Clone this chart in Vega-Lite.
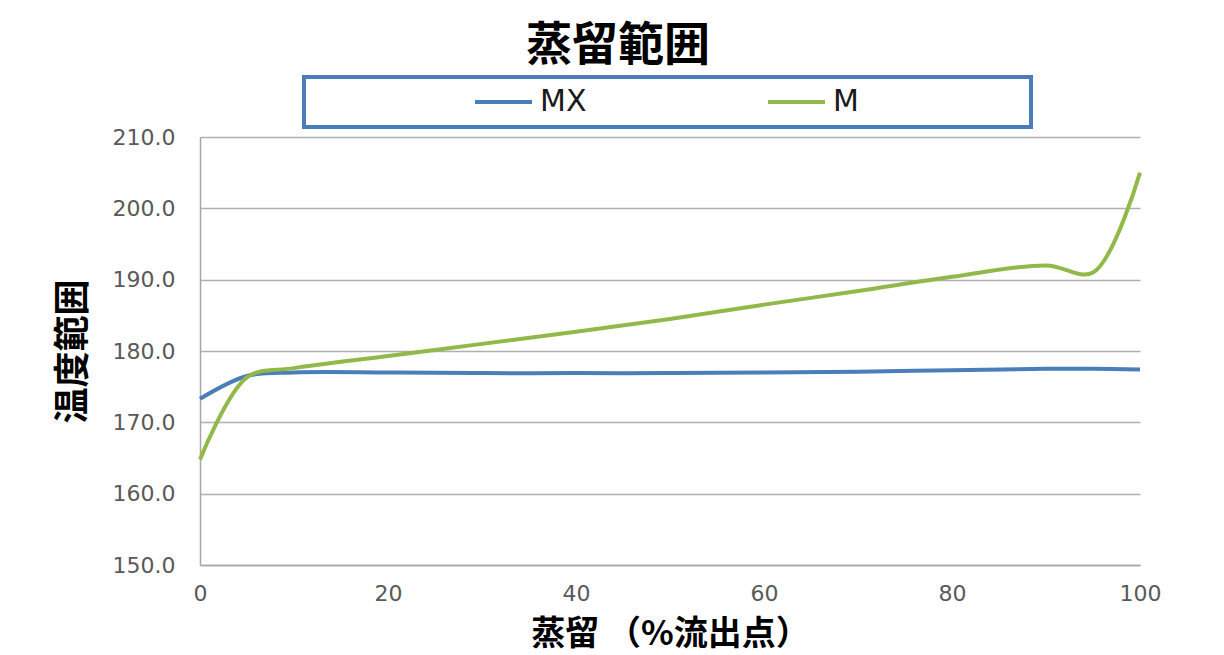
{
  "$schema": "https://vega.github.io/schema/vega-lite/v6.json",
  "width": 940,
  "height": 428,
  "autosize": {"type": "none"},
  "padding": {"left": 200, "top": 137, "right": 84, "bottom": 90},
  "background": "white",
  "title": {
    "text": "蒸留範囲",
    "font": "Noto Sans CJK JP",
    "fontSize": 46,
    "fontWeight": "bold",
    "color": "black",
    "anchor": "middle",
    "dx": -52,
    "offset": 5
  },
  "data": {
    "values": [
      {"pct": 0, "temp": 173.3, "series": "MX"},
      {"pct": 5, "temp": 176.5, "series": "MX"},
      {"pct": 10, "temp": 177.0, "series": "MX"},
      {"pct": 20, "temp": 177.0, "series": "MX"},
      {"pct": 30, "temp": 176.9, "series": "MX"},
      {"pct": 40, "temp": 176.9, "series": "MX"},
      {"pct": 50, "temp": 176.9, "series": "MX"},
      {"pct": 60, "temp": 177.0, "series": "MX"},
      {"pct": 70, "temp": 177.1, "series": "MX"},
      {"pct": 80, "temp": 177.3, "series": "MX"},
      {"pct": 90, "temp": 177.5, "series": "MX"},
      {"pct": 95, "temp": 177.5, "series": "MX"},
      {"pct": 100, "temp": 177.4, "series": "MX"},
      {"pct": 0, "temp": 164.8, "series": "M"},
      {"pct": 5, "temp": 176.3, "series": "M"},
      {"pct": 10, "temp": 177.6, "series": "M"},
      {"pct": 20, "temp": 179.3, "series": "M"},
      {"pct": 30, "temp": 181.0, "series": "M"},
      {"pct": 40, "temp": 182.7, "series": "M"},
      {"pct": 50, "temp": 184.5, "series": "M"},
      {"pct": 60, "temp": 186.5, "series": "M"},
      {"pct": 70, "temp": 188.4, "series": "M"},
      {"pct": 80, "temp": 190.4, "series": "M"},
      {"pct": 90, "temp": 192.0, "series": "M"},
      {"pct": 95, "temp": 191.0, "series": "M"},
      {"pct": 100, "temp": 205.0, "series": "M"}
    ]
  },
  "mark": {"type": "line", "interpolate": "catmull-rom", "strokeWidth": 4},
  "encoding": {
    "x": {
      "field": "pct",
      "type": "quantitative",
      "title": "蒸留 （%流出点）",
      "scale": {"domain": [0, 100], "nice": false},
      "axis": {"values": [0, 20, 40, 60, 80, 100], "grid": false, "labelFlush": false, "titleFontSize": 34, "titlePadding": 13, "labelPadding": 18}
    },
    "y": {
      "field": "temp",
      "type": "quantitative",
      "title": "温度範囲",
      "scale": {"domain": [150, 210], "nice": false, "zero": false},
      "axis": {"values": [150, 160, 170, 180, 190, 200, 210], "format": ".1f", "titlePadding": 20, "labelPadding": 25}
    },
    "color": {
      "field": "series",
      "type": "nominal",
      "scale": {"domain": ["MX", "M"], "range": ["#4A7EBB", "#93B84A"]},
      "legend": {
        "title": "　",
        "titleOrient": "right",
        "titleFontSize": 10,
        "titlePadding": 168,
        "orient": "none",
        "legendX": 104,
        "legendY": -60,
        "direction": "horizontal",
        "symbolType": "stroke",
        "symbolSize": 3249,
        "symbolStrokeWidth": 4,
        "symbolOffset": 165,
        "labelOffset": 6,
        "columnPadding": 14,
        "clipHeight": 42,
        "padding": 4,
        "labelFont": "DejaVu Sans",
        "labelFontSize": 30,
        "labelColor": "#1a1a1a",
        "strokeColor": "#4A7EBB",
        "encode": {"legend": {"update": {"strokeWidth": {"value": 4}}}}
      }
    }
  },
  "config": {
    "view": {"stroke": null},
    "axis": {
      "labelFont": "DejaVu Sans",
      "labelFontSize": 22,
      "labelColor": "#595959",
      "titleFont": "Noto Sans CJK JP",
      "titleFontSize": 36,
      "titleFontWeight": "bold",
      "titleColor": "black",
      "ticks": false,
      "domainColor": "#A6A6A6",
      "domainWidth": 1.5,
      "gridColor": "#B0B0B0",
      "gridWidth": 1.3
    }
  }
}
